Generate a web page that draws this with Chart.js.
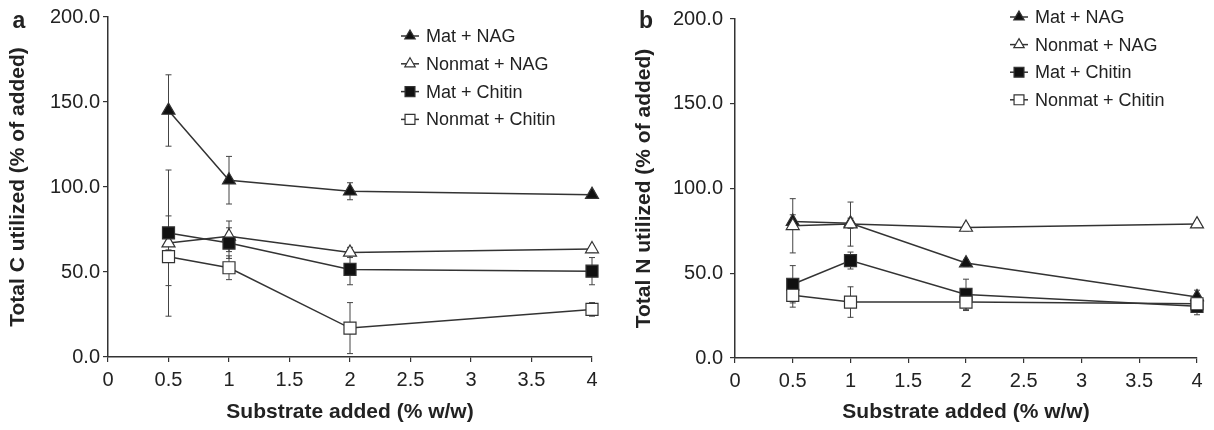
<!DOCTYPE html>
<html>
<head>
<meta charset="utf-8">
<script src="https://cdn.jsdelivr.net/npm/chart.js@4.4.1/dist/chart.umd.min.js"></script>
<style>
    body { margin: 0; background: #fff; }
    #wrap { position: relative; width: 1214px; height: 430px; }
    #wrap canvas { position: absolute; top: 0; }
</style>
</head>
<body>
<div id="wrap">
    <canvas id="chartA" width="607" height="430" style="left:0"></canvas>
    <canvas id="chartB" width="607" height="430" style="left:607px"></canvas>
</div>
<script>
// substrate doses (% w/w)
const doses = [0.5, 1, 2, 4];
const seriesNames = ['Mat + NAG', 'Nonmat + NAG', 'Mat + Chitin', 'Nonmat + Chitin'];
const xTicks = [0, 0.5, 1, 1.5, 2, 2.5, 3, 3.5, 4];
const yTicks = [0, 50, 100, 150, 200];

// panel a - total C utilized (% of added)
const cMatNag = [145, 104, 97.5, 95.5];
const cMatNagErr = [21, 14, 5, 2];
const cNonmatNag = [67, 71, 61.5, 63.5];
const cNonmatNagErr = [43, 9, 3, 2];
const cMatChitin = [73, 67, 51.5, 50.5];
const cMatChitinErr = [10, 9, 9, 8];
const cNonmatChitin = [59, 52.5, 17, 28];
const cNonmatChitinErr = [17, 7, 15, 4];

// panel b - total N utilized (% of added)
const nMatNag = [80.5, 79.5, 56, 36];
const nMatNagErr = [4, 3, 2, 4];
const nNonmatNag = [78, 79, 77, 79];
const nNonmatNagErr = [16, 13, 2, 2];
const nMatChitin = [43.5, 57.5, 37.5, 30.5];
const nMatChitinErr = [11, 5, 9, 5];
const nNonmatChitin = [37, 33, 33, 32];
const nNonmatChitinErr = [7, 9, 5, 3];

const FONT = "'Liberation Sans', Arial, sans-serif";
const INK = '#222';

// marker look for each series
const markers = [
    { style: 'triangle', radius: 7.5, fill: '#111' },
    { style: 'triangle', radius: 7.5, fill: '#fff' },
    { style: 'rect', radius: 8.5, fill: '#111' },
    { style: 'rect', radius: 8.5, fill: '#fff' },
];

function toPoints(values) {
    return doses.map((d, i) => ({ x: d, y: values[i] }));
}

// vertical error bars, drawn under the lines and markers
const errorBarPlugin = {
    id: 'errorBars',
    beforeDatasetsDraw(chart, args, opts) {
        const ctx = chart.ctx;
        const xs = chart.scales.x, ys = chart.scales.y;
        ctx.save();
        ctx.strokeStyle = '#444';
        ctx.lineWidth = 1;
        chart.data.datasets.forEach((ds, k) => {
            const errs = opts.errors[k];
            ds.data.forEach((p, i) => {
                const px = xs.getPixelForValue(p.x);
                const top = ys.getPixelForValue(p.y + errs[i]);
                const bot = ys.getPixelForValue(p.y - errs[i]);
                ctx.beginPath();
                ctx.moveTo(px, top); ctx.lineTo(px, bot);
                ctx.moveTo(px - 3, top); ctx.lineTo(px + 3, top);
                ctx.moveTo(px - 3, bot); ctx.lineTo(px + 3, bot);
                ctx.stroke();
            });
        });
        ctx.restore();
    }
};

// legend in the upper right + panel letter
const panelLegendPlugin = {
    id: 'panelLegend',
    afterDraw(chart, args, opts) {
        const ctx = chart.ctx;
        ctx.save();
        chart.data.datasets.forEach((ds, k) => {
            const y = opts.y0 + k * opts.dy;
            ctx.strokeStyle = '#333';
            ctx.lineWidth = 1.5;
            ctx.beginPath();
            ctx.moveTo(opts.x - 9, y); ctx.lineTo(opts.x + 9, y);
            ctx.stroke();
            ctx.fillStyle = ds.pointBackgroundColor;
            ctx.strokeStyle = '#333';
            ctx.lineWidth = 1.2;
            Chart.helpers.drawPoint(ctx, {
                pointStyle: ds.pointStyle, radius: ds.pointRadius - 1.5, rotation: 0, borderWidth: 1.2
            }, opts.x, y);
            ctx.fillStyle = INK;
            ctx.font = '18px ' + FONT;
            ctx.textBaseline = 'middle';
            ctx.textAlign = 'left';
            ctx.fillText(ds.label, opts.x + 16, y + 1);
        });
        ctx.font = 'bold 23px ' + FONT;
        ctx.textAlign = 'center';
        ctx.fillText(opts.letter, opts.letterX, opts.letterY);
        ctx.restore();
    }
};

function makePanel(canvasId, cfg) {
    const datasets = cfg.series.map((values, k) => ({
        label: seriesNames[k],
        data: toPoints(values),
        order: cfg.series.length - k, // later series drawn on top
        borderColor: '#333',
        borderWidth: 1.5,
        tension: 0,
        clip: false,
        pointStyle: markers[k].style,
        pointRadius: markers[k].radius,
        pointBackgroundColor: markers[k].fill,
        pointBorderColor: '#333',
        pointBorderWidth: 1.2,
    }));

    return new Chart(document.getElementById(canvasId), {
        type: 'line',
        data: { datasets: datasets },
        options: {
            responsive: false,
            animation: false,
            events: [],
            layout: { padding: { left: 0, right: cfg.padRight, top: cfg.padTop, bottom: 0 } },
            plugins: {
                legend: { display: false },
                tooltip: { enabled: false },
                errorBars: { errors: cfg.errors },
                panelLegend: cfg.legend,
            },
            scales: {
                x: {
                    type: 'linear',
                    min: 0,
                    max: 4,
                    afterBuildTicks: (axis) => { axis.ticks = xTicks.map(v => ({ value: v })); },
                    afterFit: (axis) => { axis.height = cfg.xHeight; },
                    grid: { drawOnChartArea: false, drawTicks: true, tickLength: 5, color: '#333', lineWidth: 1.2 },
                    border: { display: true, color: '#333', width: 1.5 },
                    ticks: {
                        padding: 6,
                        color: INK,
                        font: { family: FONT, size: 20 },
                        callback: (v) => String(v),
                    },
                    title: {
                        display: true,
                        text: 'Substrate added (% w/w)',
                        color: INK,
                        font: { family: FONT, size: 21, weight: 'bold' },
                        padding: { top: 0, bottom: 5 },
                    },
                },
                y: {
                    min: 0,
                    max: 200,
                    afterBuildTicks: (axis) => { axis.ticks = yTicks.map(v => ({ value: v })); },
                    afterFit: (axis) => { axis.width = cfg.yWidth; },
                    grid: { drawOnChartArea: false, drawTicks: true, tickLength: 5, color: '#333', lineWidth: 1.2 },
                    border: { display: true, color: '#333', width: 1.5 },
                    ticks: {
                        padding: cfg.yTickPad,
                        color: INK,
                        font: { family: FONT, size: 20 },
                        callback: (v) => v.toFixed(1),
                    },
                    title: {
                        display: true,
                        text: cfg.yTitle,
                        color: INK,
                        font: { family: FONT, size: 21, weight: 'bold' },
                        padding: { top: cfg.yTitlePad, bottom: 0 },
                    },
                },
            },
        },
        plugins: [errorBarPlugin, panelLegendPlugin],
    });
}

makePanel('chartA', {
    series: [cMatNag, cNonmatNag, cMatChitin, cNonmatChitin],
    errors: [cMatNagErr, cNonmatNagErr, cMatChitinErr, cNonmatChitinErr],
    yTitle: 'Total C utilized (% of added)',
    yWidth: 108, xHeight: 73, padTop: 17, padRight: 15,
    yTickPad: 3, yTitlePad: 6,
    legend: { x: 410, y0: 36, dy: 27.8, letter: 'a', letterX: 19, letterY: 22 },
});

makePanel('chartB', {
    series: [nMatNag, nNonmatNag, nMatChitin, nNonmatChitin],
    errors: [nMatNagErr, nNonmatNagErr, nMatChitinErr, nNonmatChitinErr],
    yTitle: 'Total N utilized (% of added)',
    yWidth: 128, xHeight: 72, padTop: 15, padRight: 17,
    yTickPad: 7, yTitlePad: 25,
    legend: { x: 412, y0: 17, dy: 27.6, letter: 'b', letterX: 39, letterY: 22 },
});
</script>
</body>
</html>
